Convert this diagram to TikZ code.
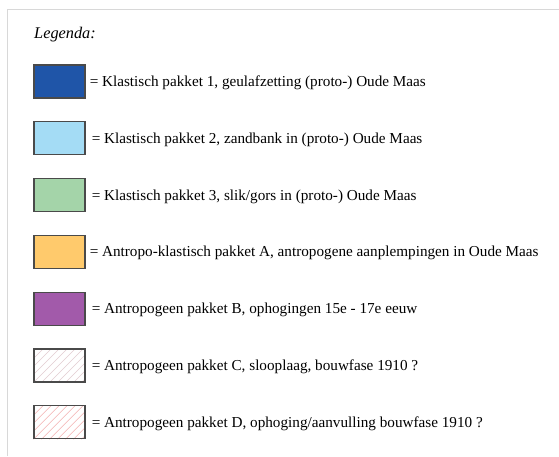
\documentclass[tikz,border=0pt]{standalone}
\usepackage{fontspec}
\setmainfont{Liberation Serif}
\usetikzlibrary{calc}
\definecolor{cdarkblue}{HTML}{1F55A8}
\definecolor{clightblue}{HTML}{A4DCF5}
\definecolor{cgreen}{HTML}{A4D4A9}
\definecolor{corange}{HTML}{FFCA6C}
\definecolor{cpurple}{HTML}{A25AAA}
\definecolor{cframe}{HTML}{D8D8D8}
\definecolor{cborder}{HTML}{4A4A4A}
\definecolor{hatchC}{HTML}{E2CCD0}
\definecolor{hatchD}{HTML}{F4B0B0}
\begin{document}
\begin{tikzpicture}[x=1pt,y=-1pt,
  legbox/.style={draw=cborder,line width=1.1pt,minimum width=51pt,minimum height=33pt,inner sep=0pt,anchor=center},
  legtext/.style={anchor=base west,inner sep=0pt,font=\fontsize{15.2}{17}\selectfont},
  hatchline/.style={line width=0.5pt}]
\useasboundingbox (0,0) rectangle (559,456);
\draw[cframe,line width=0.8pt] (7,456) -- (7,9) -- (559,9);
\node[anchor=base west,inner sep=0pt,font=\fontsize{16.3}{18}\selectfont\itshape] (title) at (34,38.5) {Legenda:};
% boxes
\node[legbox,fill=cdarkblue] (b1) at (59.5,81.5) {};
\node[legbox,fill=clightblue] (b2) at (59.5,138.3) {};
\node[legbox,fill=cgreen] (b3) at (59.5,195.1) {};
\node[legbox,fill=corange] (b4) at (59.5,251.9) {};
\node[legbox,fill=cpurple] (b5) at (59.5,308.7) {};
\node[legbox,fill=white] (b6) at (59.5,365.5) {};
\node[legbox,fill=white] (b7) at (59.5,422.3) {};
% hatching
\begin{scope}
\clip (b6.north west) rectangle (b6.south east);
\foreach \i in {-5,...,10} {
  \draw[hatchC,hatchline] ($(b6.south west)+(\i*8,0)$) -- ++(40,-40);
}
\end{scope}
\begin{scope}
\clip (b7.north west) rectangle (b7.south east);
\foreach \i in {-5,...,10} {
  \draw[hatchD,hatchline] ($(b7.south west)+(\i*8,0)$) -- ++(40,-40);
}
\end{scope}
\node[legbox,fill=none] at (b6) {};
\node[legbox,fill=none] at (b7) {};
% texts
\node[legtext] (t1) at ($(b1.east)+(4,5)$) {= Klastisch pakket 1, geulafzetting (proto-) Oude Maas};
\node[legtext] (t2) at ($(b2.east)+(6,5)$) {= Klastisch pakket 2, zandbank in (proto-) Oude Maas};
\node[legtext] (t3) at ($(b3.east)+(6,5)$) {= Klastisch pakket 3, slik/gors in (proto-) Oude Maas};
\node[legtext] (t4) at ($(b4.east)+(4,5)$) {= Antropo-klastisch pakket A, antropogene aanplempingen in Oude Maas};
\node[legtext] (t5) at ($(b5.east)+(6,5)$) {= Antropogeen pakket B, ophogingen 15e - 17e eeuw};
\node[legtext] (t6) at ($(b6.east)+(6,5)$) {= Antropogeen pakket C, slooplaag, bouwfase 1910 ?};
\node[legtext] (t7) at ($(b7.east)+(6,5)$) {= Antropogeen pakket D, ophoging/aanvulling bouwfase 1910 ?};
\end{tikzpicture}
\end{document}
